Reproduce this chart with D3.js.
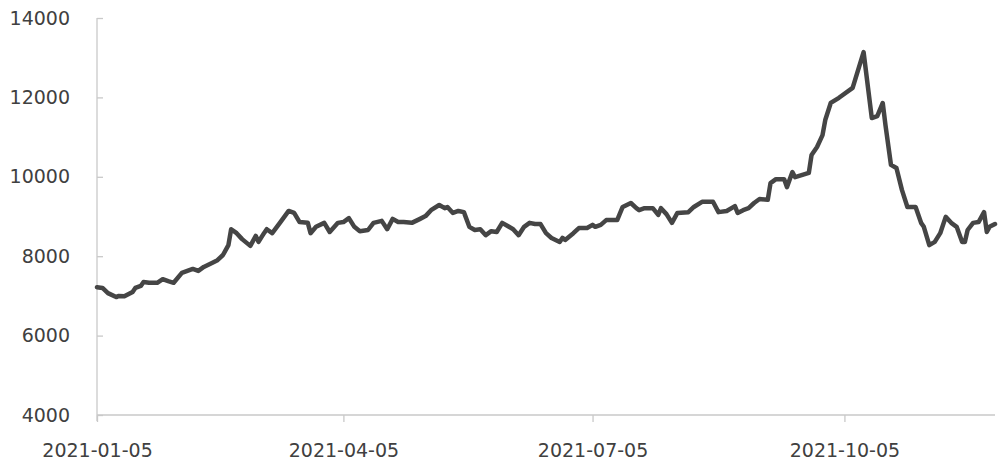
<!DOCTYPE html>
<html>
<head>
<meta charset="utf-8">
<script src="https://cdn.jsdelivr.net/npm/d3@7"></script>
<style>
  html, body { margin: 0; padding: 0; background: #ffffff; }
  svg { display: block; }
</style>
</head>
<body>
<svg id="chart" width="1006" height="472"></svg>
<script>
const dates = [
  "2021-01-05","2021-01-07","2021-01-09","2021-01-12","2021-01-13","2021-01-15","2021-01-18","2021-01-19",
  "2021-01-21","2021-01-22","2021-01-24","2021-01-27","2021-01-29","2021-01-31","2021-02-02","2021-02-05",
  "2021-02-07","2021-02-09","2021-02-11","2021-02-13","2021-02-16","2021-02-18","2021-02-20","2021-02-22",
  "2021-02-23","2021-02-25","2021-02-27","2021-03-02","2021-03-04","2021-03-05","2021-03-07","2021-03-08",
  "2021-03-10","2021-03-13","2021-03-16","2021-03-18","2021-03-20","2021-03-23","2021-03-24","2021-03-26",
  "2021-03-29","2021-03-31","2021-04-03","2021-04-05","2021-04-07","2021-04-09","2021-04-11","2021-04-14",
  "2021-04-16","2021-04-19","2021-04-21","2021-04-23","2021-04-25","2021-04-27","2021-04-30","2021-05-03",
  "2021-05-05","2021-05-07","2021-05-10","2021-05-12","2021-05-13","2021-05-15","2021-05-17","2021-05-19",
  "2021-05-21","2021-05-23","2021-05-25","2021-05-27","2021-05-29","2021-05-31","2021-06-02","2021-06-04",
  "2021-06-06","2021-06-08","2021-06-10","2021-06-12","2021-06-14","2021-06-16","2021-06-18","2021-06-20",
  "2021-06-23","2021-06-24","2021-06-25","2021-06-28","2021-06-30","2021-07-03","2021-07-05","2021-07-06",
  "2021-07-08","2021-07-10","2021-07-14","2021-07-16","2021-07-19","2021-07-21","2021-07-22","2021-07-24",
  "2021-07-27","2021-07-29","2021-07-30","2021-08-01","2021-08-03","2021-08-05","2021-08-09","2021-08-11",
  "2021-08-14","2021-08-18","2021-08-20","2021-08-23","2021-08-26","2021-08-27","2021-08-29","2021-08-31",
  "2021-09-02","2021-09-04","2021-09-07","2021-09-08","2021-09-10","2021-09-13","2021-09-14","2021-09-16",
  "2021-09-17","2021-09-22","2021-09-23","2021-09-25","2021-09-27","2021-09-28","2021-09-30","2021-10-03",
  "2021-10-08","2021-10-12","2021-10-15","2021-10-17","2021-10-19","2021-10-20","2021-10-22","2021-10-24",
  "2021-10-26","2021-10-28","2021-10-31","2021-11-02","2021-11-03","2021-11-05","2021-11-07","2021-11-09",
  "2021-11-11","2021-11-13","2021-11-15","2021-11-17","2021-11-18","2021-11-19","2021-11-21","2021-11-23",
  "2021-11-25","2021-11-26","2021-11-27","2021-11-29"
];
const values = [
  7220,7200,7070,6970,7000,6990,7100,7200,
  7250,7350,7330,7330,7420,7370,7330,7580,
  7630,7680,7630,7730,7830,7900,8030,8280,
  8680,8580,8430,8260,8510,8360,8580,8680,
  8580,8860,9140,9090,8860,8840,8580,8740,
  8840,8610,8840,8860,8960,8740,8630,8660,
  8840,8890,8680,8940,8860,8860,8840,8940,
  9010,9160,9290,9210,9240,9090,9140,9110,
  8740,8660,8680,8530,8630,8610,8840,8760,
  8680,8530,8740,8840,8810,8810,8580,8460,
  8360,8460,8410,8580,8710,8710,8790,8740,
  8790,8910,8910,9240,9340,9210,9160,9210,
  9210,9040,9210,9060,8840,9090,9110,9240,
  9370,9370,9110,9140,9260,9090,9160,9210,
  9340,9440,9420,9840,9940,9940,9740,10120,
  9990,10100,10550,10750,11050,11430,11860,11990,
  12240,13140,11480,11530,11860,11300,10300,10220,
  9670,9240,9240,8840,8740,8280,8360,8580,
  8990,8840,8740,8360,8360,8660,8840,8860,
  9110,8610,8740,8810
];
const yTicks = [4000, 6000, 8000, 10000, 12000, 14000];
const xTickLabels = ["2021-01-05", "2021-04-05", "2021-07-05", "2021-10-05"];

const parse = d3.timeParse("%Y-%m-%d");
const data = dates.map((d, i) => ({ date: parse(d), value: values[i] }));

const svg = d3.select("#chart");
const mLeft = 97, mRight = 995, mTop = 18, mBottom = 415;
const axisColor = "#c9c9c9";
const textColor = "#404040";
const fontFamily = "'DejaVu Sans', sans-serif";

const x = d3.scaleTime()
  .domain([parse("2021-01-05"), parse("2021-11-29")])
  .range([mLeft, mRight]);
const y = d3.scaleLinear()
  .domain([4000, 14000])
  .range([mBottom, mTop]);

// Y axis
const yAxis = d3.axisLeft(y)
  .tickValues(yTicks)
  .tickFormat(d3.format("d"))
  .tickSizeInner(-6)
  .tickSizeOuter(0)
  .tickPadding(27);
const gy = svg.append("g")
  .attr("transform", `translate(${mLeft},0)`)
  .call(yAxis);
gy.select(".domain").remove();
gy.selectAll(".tick line").attr("stroke", axisColor).attr("stroke-width", 1.3);
gy.selectAll(".tick text")
  .attr("fill", textColor)
  .style("font-family", fontFamily)
  .style("font-size", "19px");
svg.append("line")
  .attr("x1", mLeft).attr("x2", mLeft)
  .attr("y1", y(14000)).attr("y2", mBottom + 6)
  .attr("stroke", axisColor).attr("stroke-width", 1.3);

// X axis
const xAxis = d3.axisBottom(x)
  .tickValues(xTickLabels.map(parse))
  .tickFormat(d3.timeFormat("%Y-%m-%d"))
  .tickSizeInner(7)
  .tickSizeOuter(0)
  .tickPadding(22);
const gx = svg.append("g")
  .attr("transform", `translate(0,${mBottom})`)
  .call(xAxis);
gx.select(".domain").remove();
gx.selectAll(".tick line").attr("stroke", axisColor).attr("stroke-width", 1.3);
gx.selectAll(".tick text")
  .attr("fill", textColor)
  .style("font-family", fontFamily)
  .style("font-size", "19px");
svg.append("line")
  .attr("x1", mLeft).attr("x2", mRight)
  .attr("y1", mBottom).attr("y2", mBottom)
  .attr("stroke", axisColor).attr("stroke-width", 1.3);

// Line
const line = d3.line()
  .x(d => x(d.date))
  .y(d => y(d.value));
svg.append("path")
  .datum(data)
  .attr("fill", "none")
  .attr("stroke", "#454545")
  .attr("stroke-width", 4.5)
  .attr("stroke-linejoin", "round")
  .attr("stroke-linecap", "round")
  .attr("d", line);
</script>
</body>
</html>
